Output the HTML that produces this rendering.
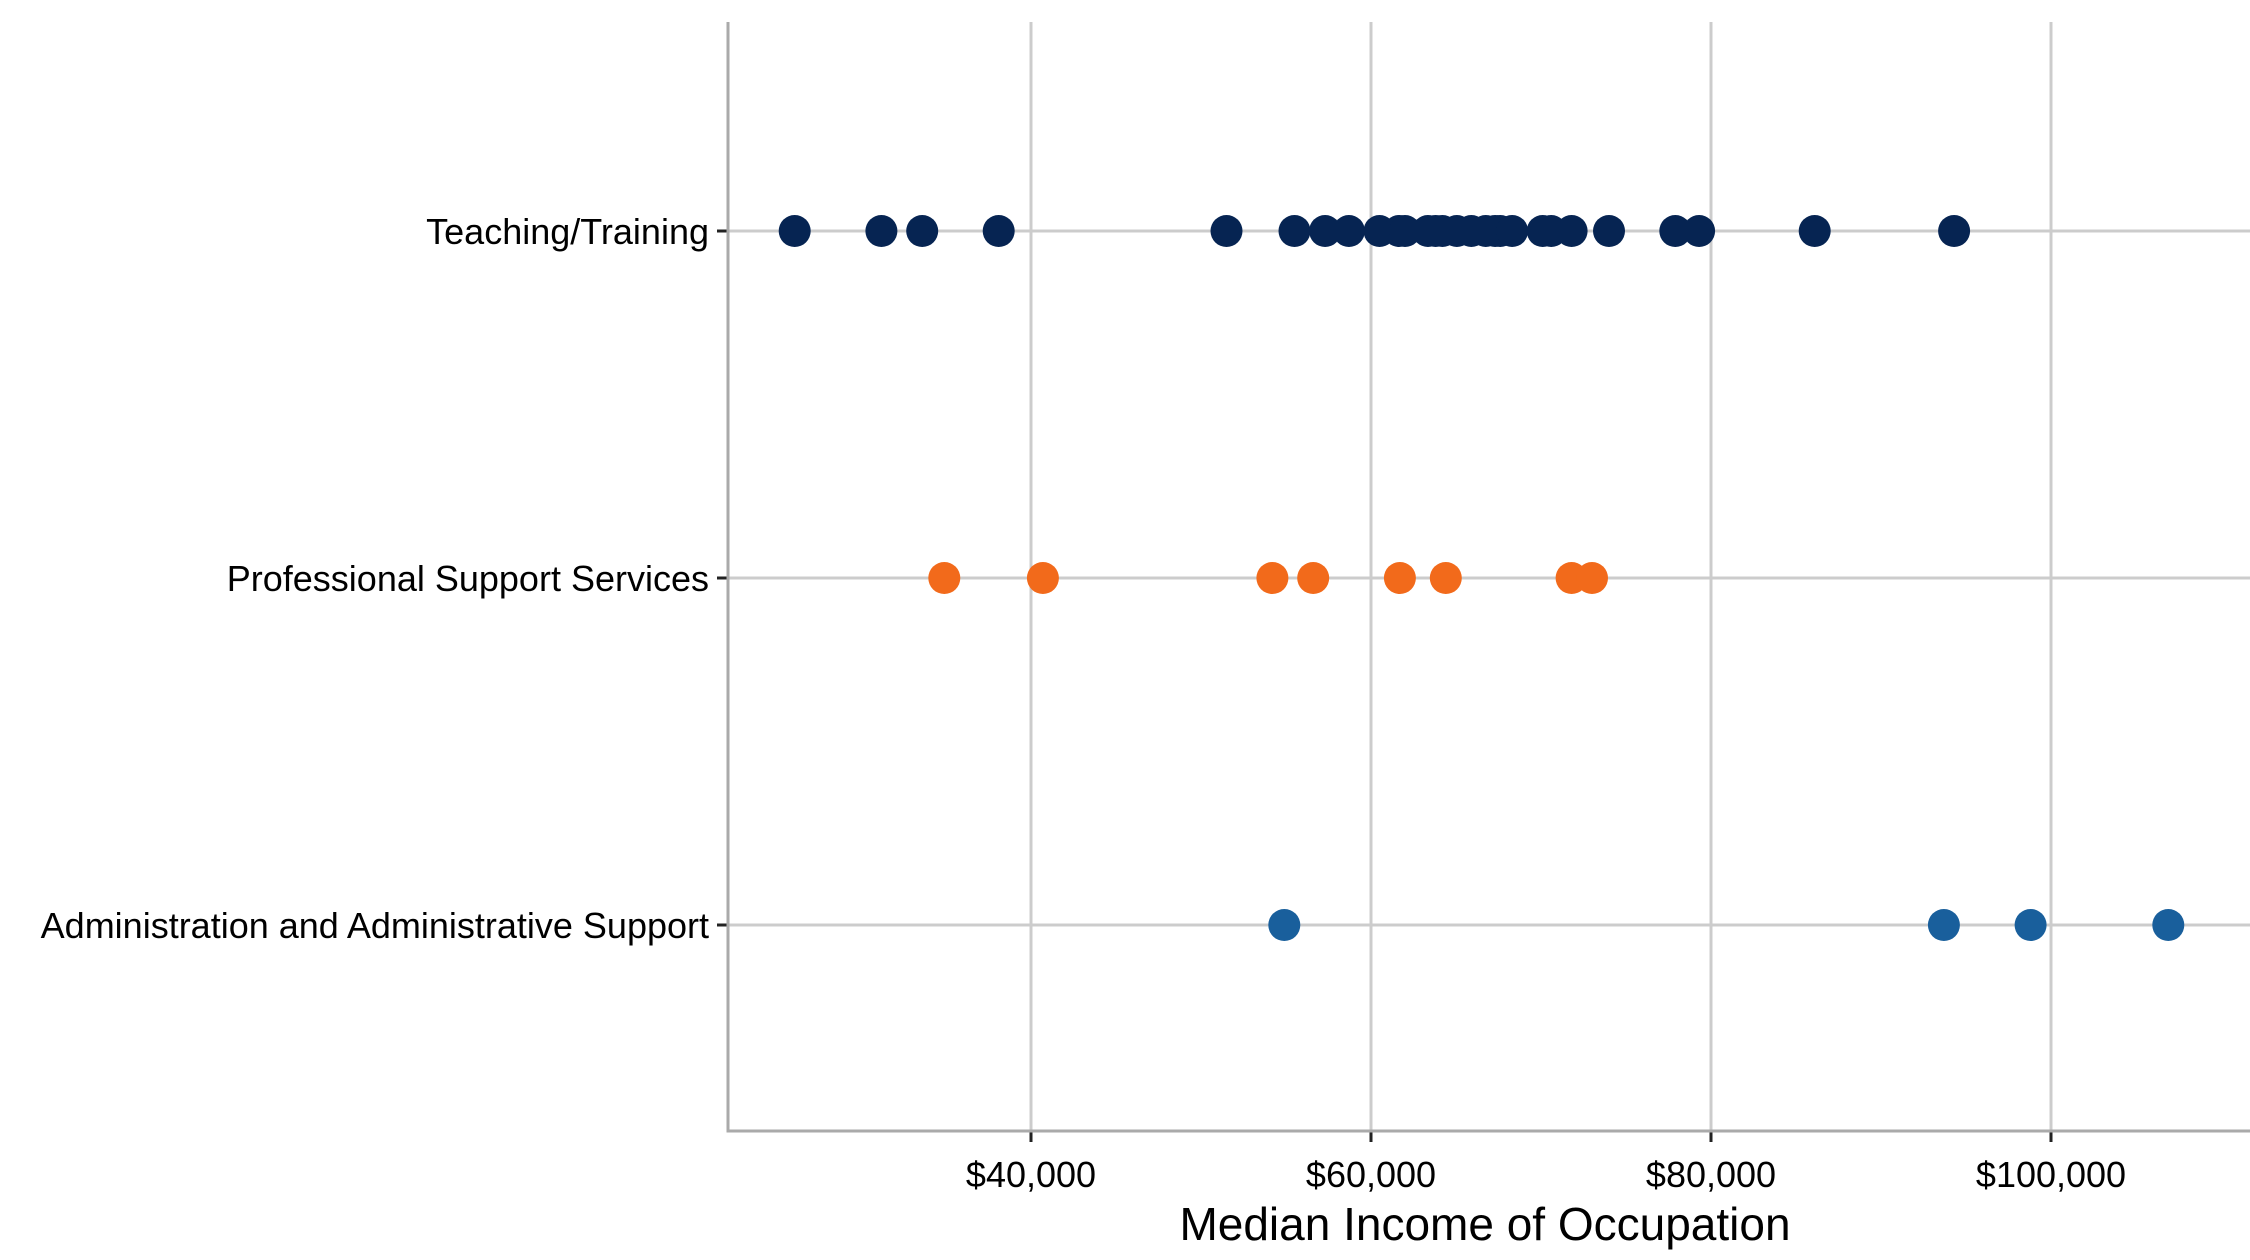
<!DOCTYPE html>
<html><head><meta charset="utf-8"><style>
body{margin:0;background:#fff}
svg{display:block;font-family:"Liberation Sans",Arial,sans-serif}
</style></head><body>
<svg id="chart" width="2250" height="1260" viewBox="0 0 2250 1260" xmlns="http://www.w3.org/2000/svg">
<g id="grid"></g>
<g id="axes"></g>
<g id="dots"></g>
<text x="1485" y="1240" font-size="46" text-anchor="middle" fill="#000">Median Income of Occupation</text>
</svg>
<script>
const categories = ["Teaching/Training", "Professional Support Services", "Administration and Administrative Support"];
const colors = ["#062452", "#f26a1b", "#195f9c"];
const teachingValues = [26100, 31200, 33600, 38100, 51500, 55500, 57300, 58700, 60500, 61650, 62000, 63350, 63800, 64200, 65050, 65900, 66750, 67300, 67600, 68300, 70100, 70600, 71800, 74000, 77900, 79300, 86100, 94300];
const professionalValues = [34900, 40700, 54200, 56600, 61700, 64400, 71800, 73000];
const adminValues = [54900, 93700, 98800, 106900];
const xTicks = [40000, 60000, 80000, 100000];
const xTickLabels = ["$40,000", "$60,000", "$80,000", "$100,000"];

const NS = "http://www.w3.org/2000/svg";
const plotLeft = 728, plotRight = 2250, plotTop = 22, plotBottom = 1131;
function xScale(v){ return 1031 + (v - 40000) * 0.017; }
function yScale(i){ return [231, 578, 925][i]; }
function mk(tag, attrs, parent){ const e = document.createElementNS(NS, tag); for (const k in attrs) e.setAttribute(k, attrs[k]); parent.appendChild(e); return e; }

const gridG = document.getElementById('grid');
const axesG = document.getElementById('axes');
const dotsG = document.getElementById('dots');

xTicks.forEach((t, i) => {
  const gl = mk('line', {x1: xScale(t), x2: xScale(t), y1: plotTop, y2: plotBottom, stroke: '#cccccc', 'stroke-width': 3}, gridG);
  
  
  const tk = mk('line', {x1: xScale(t), x2: xScale(t), y1: plotBottom, y2: plotBottom + 11, stroke: '#222', 'stroke-width': 3}, axesG);
  
  
  const lb = mk('text', {x: xScale(t), y: 1187, 'font-size': 36, 'text-anchor': 'middle', fill: '#000'}, axesG);
  lb.textContent = xTickLabels[i];
  
  
});
categories.forEach((c, i) => {
  const gl = mk('line', {x1: plotLeft, x2: plotRight, y1: yScale(i), y2: yScale(i), stroke: '#cccccc', 'stroke-width': 3}, gridG);
  
  
  const tk = mk('line', {x1: plotLeft - 11, x2: plotLeft, y1: yScale(i), y2: yScale(i), stroke: '#222', 'stroke-width': 3}, axesG);
  
  
  const lb = mk('text', {x: 709, y: yScale(i) + 13, 'font-size': 36, 'text-anchor': 'end', fill: '#000'}, axesG);
  lb.textContent = c;
  
  
});
const ya = mk('line', {x1: plotLeft, x2: plotLeft, y1: plotTop, y2: plotBottom + 1.5, stroke: '#aaaaaa', 'stroke-width': 3}, axesG);


const xa = mk('line', {x1: plotLeft - 1.5, x2: plotRight, y1: plotBottom, y2: plotBottom, stroke: '#aaaaaa', 'stroke-width': 3}, axesG);



[teachingValues, professionalValues, adminValues].forEach((vals, i) => {
  vals.forEach(v => {
    const c = mk('circle', {cx: xScale(v), cy: yScale(i), r: 16, fill: colors[i]}, dotsG);
    
    
  });
});
</script>
</body></html>
